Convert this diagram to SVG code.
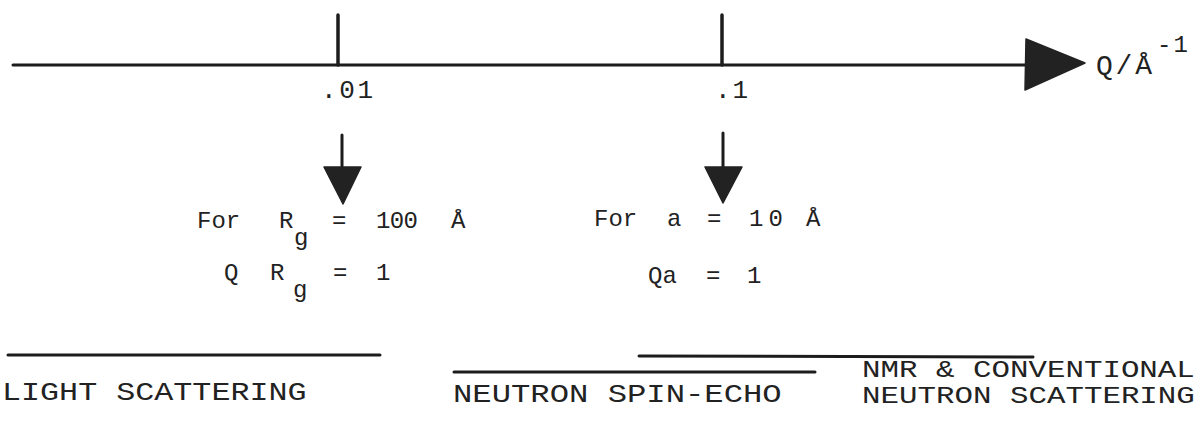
<svg xmlns="http://www.w3.org/2000/svg" width="1196" height="427" viewBox="0 0 1196 427">
<style>
.t{font-family:"Liberation Mono","Courier New",monospace;fill:#222;}
.m{font-size:24px;}
.b{font-size:26px;}
.n{font-size:23px;}
.ln{stroke:#1c1c1c;stroke-width:3;fill:none;stroke-linecap:round;}
.hd{fill:#222;stroke:#222;stroke-width:1.5;stroke-linejoin:round;}
</style>
<rect width="1196" height="427" fill="#fff"/>
<g id="axis">
<line class="ln" x1="13" y1="65" x2="1030" y2="65"/>
<polygon class="hd" points="1026,39 1085,63 1025,90"/>
<line class="ln" x1="338" y1="15" x2="338" y2="65" style="stroke-width:3.5"/>
<line class="ln" x1="722" y1="15" x2="722" y2="65" style="stroke-width:3.5"/>
<text class="t" x="321" y="98" font-size="26" textLength="52">.01</text>
<text class="t" x="715" y="98" font-size="26" textLength="33">.1</text>
<text class="t" x="1096" y="74" font-size="28" textLength="56">Q/Å</text>
<text class="t m" x="1157" y="52" textLength="31">-1</text>
</g>
<g id="connectors">
<line class="ln" x1="342" y1="135" x2="342" y2="170"/>
<polygon class="hd" points="324,167 361,167 343,204"/>
<line class="ln" x1="723" y1="133" x2="723" y2="170"/>
<polygon class="hd" points="705,167 742,167 723,203"/>
</g>
<g id="node-rg">
<text class="t m" x="197" y="228">For</text>
<text class="t m" x="279" y="228">R</text>
<text class="t m" x="294" y="245">g</text>
<text class="t m" x="332" y="228">=</text>
<text class="t m" x="376" y="228" textLength="42">100</text>
<text class="t m" x="451" y="228">Å</text>
<text class="t m" x="224" y="280">Q</text>
<text class="t m" x="270" y="280">R</text>
<text class="t m" x="293" y="297">g</text>
<text class="t m" x="333" y="280">=</text>
<text class="t m" x="376" y="280">1</text>
</g>
<g id="node-a">
<text class="t m" x="594" y="226">For</text>
<text class="t m" x="667" y="226">a</text>
<text class="t m" x="707" y="226">=</text>
<text class="t m" x="749" y="226" textLength="34">10</text>
<text class="t m" x="806" y="226">Å</text>
<text class="t m" x="648" y="283">Qa</text>
<text class="t m" x="706" y="283">=</text>
<text class="t m" x="747" y="283">1</text>
</g>
<g id="node-light">
<line class="ln" x1="8" y1="355" x2="380" y2="355"/>
<text class="t b" transform="translate(2,400) scale(1.22,1)">LIGHT SCATTERING</text>
</g>
<g id="node-nse">
<line class="ln" x1="454" y1="372" x2="815" y2="372"/>
<text class="t b" transform="translate(453,402) scale(1.24,1)">NEUTRON SPIN-ECHO</text>
</g>
<g id="node-nmr">
<line class="ln" x1="639" y1="356" x2="1033" y2="357"/>
<text class="t n" transform="translate(862,377) scale(1.34,1)">NMR &amp; CONVENTIONAL</text>
<text class="t n" transform="translate(862,403) scale(1.34,1)">NEUTRON SCATTERING</text>
</g>
</svg>
